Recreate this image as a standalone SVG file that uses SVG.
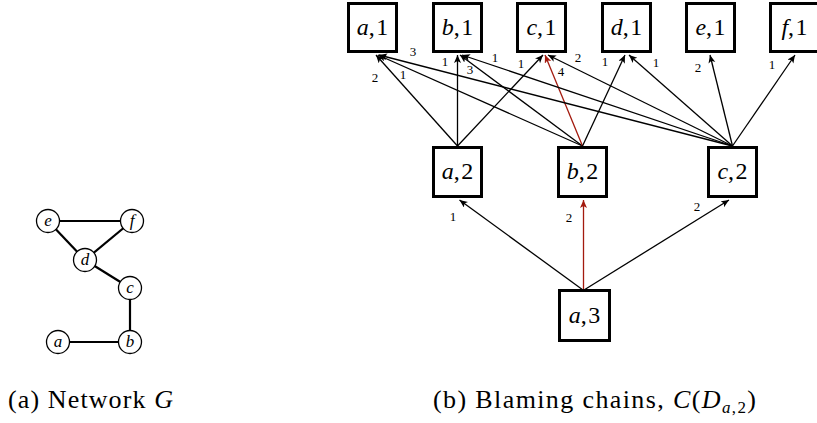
<svg xmlns="http://www.w3.org/2000/svg" width="817" height="423" viewBox="0 0 817 423">
<style>
.box{fill:#fff;stroke:#000;stroke-width:3}
.bt{font-family:"Liberation Serif",serif;font-size:24px;text-anchor:middle;fill:#000}
.it{font-style:italic}
.e{fill:none;stroke:#000;stroke-width:1.3}
.r{fill:none;stroke:#a31a0e;stroke-width:1.3}
.lb{font-family:"Liberation Serif",serif;font-size:13px;text-anchor:middle;fill:#000}
.gn{fill:#fff;stroke:#000;stroke-width:1.3}
.ge{stroke:#000;stroke-width:2.2}
.gt{font-family:"Liberation Serif",serif;font-size:17px;font-style:italic;text-anchor:middle;fill:#000}
.cap{font-family:"Liberation Serif",serif;font-size:26px;fill:#000}
</style>
<defs>
<marker id="ah" markerUnits="userSpaceOnUse" markerWidth="10" markerHeight="8" refX="8" refY="3.5" orient="auto">
<path d="M0,0 L8,3.5 L0,7 L2,3.5 z" fill="#000"/>
</marker>
<marker id="ahr" markerUnits="userSpaceOnUse" markerWidth="10" markerHeight="8" refX="8" refY="3.5" orient="auto">
<path d="M0,0 L8,3.5 L0,7 L2,3.5 z" fill="#a31a0e"/>
</marker>
</defs>

<g id="network">
<g id="g-edges">
<line class="ge" x1="48" y1="221" x2="132" y2="221"/>
<line class="ge" x1="48" y1="221" x2="85" y2="260"/>
<line class="ge" x1="132" y1="221" x2="85" y2="260"/>
<line class="ge" x1="85" y1="260" x2="130" y2="288"/>
<line class="ge" x1="130" y1="288" x2="130" y2="342"/>
<line class="ge" x1="58" y1="342" x2="130" y2="342"/>
</g>
<g id="g-e"><circle class="gn" cx="48" cy="221" r="11.5"/><text class="gt" x="48" y="226">e</text></g>
<g id="g-f"><circle class="gn" cx="132" cy="221" r="11.5"/><text class="gt" x="132" y="226">f</text></g>
<g id="g-d"><circle class="gn" cx="85" cy="260" r="11.5"/><text class="gt" x="85" y="265">d</text></g>
<g id="g-c"><circle class="gn" cx="130" cy="288" r="11.5"/><text class="gt" x="130" y="293">c</text></g>
<g id="g-a"><circle class="gn" cx="58" cy="342" r="11.5"/><text class="gt" x="58" y="347">a</text></g>
<g id="g-b"><circle class="gn" cx="130" cy="342" r="11.5"/><text class="gt" x="130" y="347">b</text></g>
</g>

<g id="connectors">
<line class="e" x1="457.5" y1="146" x2="376" y2="55" marker-end="url(#ah)"/>
<line class="e" x1="457.5" y1="146" x2="457.5" y2="55" marker-end="url(#ah)"/>
<line class="e" x1="457.5" y1="146" x2="543" y2="55" marker-end="url(#ah)"/>
<line class="e" x1="582.5" y1="146" x2="378" y2="55" marker-end="url(#ah)"/>
<line class="e" x1="582.5" y1="146" x2="460" y2="55" marker-end="url(#ah)"/>
<line class="r" x1="582.5" y1="146" x2="545" y2="55" marker-end="url(#ahr)"/>
<line class="e" x1="582.5" y1="146" x2="625" y2="55" marker-end="url(#ah)"/>
<line class="e" x1="732.5" y1="146" x2="379" y2="55" marker-end="url(#ah)"/>
<line class="e" x1="732.5" y1="146" x2="462" y2="55" marker-end="url(#ah)"/>
<line class="e" x1="732.5" y1="146" x2="548" y2="55" marker-end="url(#ah)"/>
<line class="e" x1="732.5" y1="146" x2="629" y2="55" marker-end="url(#ah)"/>
<line class="e" x1="732.5" y1="146" x2="710" y2="55" marker-end="url(#ah)"/>
<line class="e" x1="732.5" y1="146" x2="795" y2="55" marker-end="url(#ah)"/>
<line class="e" x1="583" y1="290" x2="459.5" y2="200" marker-end="url(#ah)"/>
<line class="r" x1="583.5" y1="290" x2="583.5" y2="200" marker-end="url(#ahr)"/>
<line class="e" x1="584" y1="290" x2="729" y2="200" marker-end="url(#ah)"/>
<text class="lb" x="413" y="56">3</text>
<text class="lb" x="375" y="82">2</text>
<text class="lb" x="403" y="79">1</text>
<text class="lb" x="445" y="66">1</text>
<text class="lb" x="470" y="74">3</text>
<text class="lb" x="495" y="62">1</text>
<text class="lb" x="521" y="68">1</text>
<text class="lb" x="561" y="76">4</text>
<text class="lb" x="578" y="62">2</text>
<text class="lb" x="605" y="66">1</text>
<text class="lb" x="656" y="67">1</text>
<text class="lb" x="698" y="72">2</text>
<text class="lb" x="772" y="69">1</text>
<text class="lb" x="453" y="221">1</text>
<text class="lb" x="569" y="222">2</text>
<text class="lb" x="697" y="211">2</text>
</g>

<g id="n-a1"><rect class="box" x="348.5" y="3.5" width="48" height="48"/><text class="bt" x="372.5" y="35"><tspan class="it">a</tspan>,<tspan dx="1.5">1</tspan></text></g>
<g id="n-b1"><rect class="box" x="433.5" y="3.5" width="48" height="48"/><text class="bt" x="457.5" y="35"><tspan class="it">b</tspan>,<tspan dx="1.5">1</tspan></text></g>
<g id="n-c1"><rect class="box" x="517.5" y="3.5" width="48" height="48"/><text class="bt" x="541.5" y="35"><tspan class="it">c</tspan>,<tspan dx="1.5">1</tspan></text></g>
<g id="n-d1"><rect class="box" x="602.5" y="3.5" width="48" height="48"/><text class="bt" x="626.5" y="35"><tspan class="it">d</tspan>,<tspan dx="1.5">1</tspan></text></g>
<g id="n-e1"><rect class="box" x="686.5" y="3.5" width="48" height="48"/><text class="bt" x="710.5" y="35"><tspan class="it">e</tspan>,<tspan dx="1.5">1</tspan></text></g>
<g id="n-f1"><rect class="box" x="770.5" y="3.5" width="48" height="48"/><text class="bt" x="794.5" y="35"><tspan class="it">f</tspan>,<tspan dx="1.5">1</tspan></text></g>

<g id="n-a2"><rect class="box" x="433.5" y="147.5" width="48" height="49"/><text class="bt" x="457.5" y="179"><tspan class="it">a</tspan>,<tspan dx="1.5">2</tspan></text></g>
<g id="n-b2"><rect class="box" x="558.5" y="147.5" width="48" height="49"/><text class="bt" x="582.5" y="179"><tspan class="it">b</tspan>,<tspan dx="1.5">2</tspan></text></g>
<g id="n-c2"><rect class="box" x="708.5" y="147.5" width="48" height="49"/><text class="bt" x="732.5" y="179"><tspan class="it">c</tspan>,<tspan dx="1.5">2</tspan></text></g>

<g id="n-a3"><rect class="box" x="559.5" y="290.5" width="50" height="50"/><text class="bt" x="584.5" y="323"><tspan class="it">a</tspan>,<tspan dx="1.5">3</tspan></text></g>

<text class="cap" x="8" y="408" textLength="165" lengthAdjust="spacing">(a) Network <tspan font-style="italic">G</tspan></text>
<text class="cap" x="433" y="408" textLength="323" lengthAdjust="spacing">(b) Blaming chains, <tspan font-style="italic">C</tspan>(<tspan font-style="italic">D</tspan><tspan font-size="17" dy="5" font-style="italic">a</tspan><tspan font-size="17">,2</tspan><tspan dy="-5">)</tspan></text>
</svg>
